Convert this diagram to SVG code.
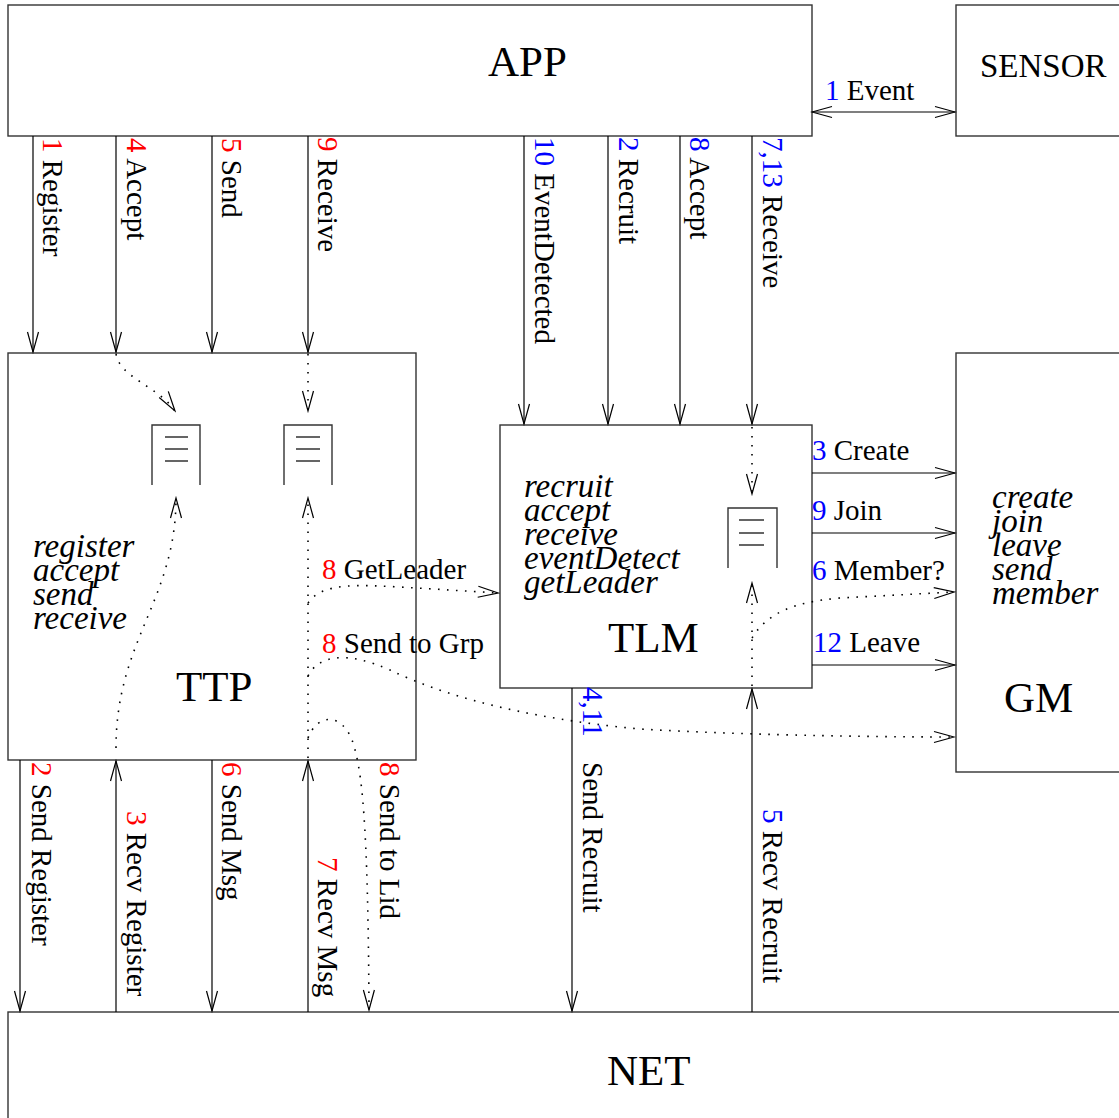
<svg xmlns="http://www.w3.org/2000/svg" width="1119" height="1118" viewBox="0 0 1119 1118">
<style>
.box{fill:#fff;stroke:#333;stroke-width:1.4}
.ln{fill:none;stroke:#000;stroke-width:1.2}
.dot{fill:none;stroke:#000;stroke-width:1.6;stroke-dasharray:1.6 7.4}
.lbl{font-family:"Liberation Serif","Times New Roman",serif;font-size:29px;fill:#000}
.big{font-family:"Liberation Serif","Times New Roman",serif;font-size:43px;fill:#000}
.it{font-family:"Liberation Serif","Times New Roman",serif;font-size:33px;font-style:italic;fill:#000}
.r{fill:#ff0000}
.b{fill:#0000ff}
.q{fill:none;stroke:#333;stroke-width:1.4}
</style>
<defs>
<marker id="ah" viewBox="-22 -7 24 14" refX="0" refY="0" markerWidth="24" markerHeight="14" markerUnits="userSpaceOnUse" orient="auto-start-reverse">
<path d="M-20,-5.5 L0,0 L-20,5.5" fill="none" stroke="#000" stroke-width="1.2"/>
</marker>
</defs>
<rect width="1119" height="1118" fill="#fff"/>

<g id="app">
<rect class="box" x="8" y="5" width="804" height="131"/>
<text class="big" x="488" y="76">APP</text>
</g>
<g id="sensor">
<rect class="box" x="956" y="5" width="220" height="131"/>
<text class="lbl" style="font-size:33px" x="980" y="77">SENSOR</text>
</g>
<g id="ttp">
<rect class="box" x="8" y="353" width="408" height="407"/>
<path class="q" d="M152,485 V425 H200 V485 M165,437 H188 M165,449 H188 M165,461 H188"/>
<path class="q" d="M284,485 V425 H332 V485 M296,437 H320 M296,449 H320 M296,461 H320"/>
<text class="it" x="33" y="557">register</text>
<text class="it" x="33" y="581">accept</text>
<text class="it" x="33" y="605">send</text>
<text class="it" x="33" y="629">receive</text>
<text class="big" x="176" y="701">TTP</text>
</g>
<g id="tlm">
<rect class="box" x="500" y="425" width="312" height="263"/>
<path class="q" d="M728,568 V508 H777 V568 M739,520 H764 M739,533 H764 M739,545 H764"/>
<text class="it" x="524" y="497">recruit</text>
<text class="it" x="524" y="521">accept</text>
<text class="it" x="524" y="545">receive</text>
<text class="it" x="524" y="569">eventDetect</text>
<text class="it" x="524" y="593">getLeader</text>
<text class="big" x="608" y="652">TLM</text>
</g>
<g id="gm">
<rect class="box" x="956" y="353" width="220" height="419"/>
<text class="it" x="992" y="508">create</text>
<text class="it" x="992" y="532">join</text>
<text class="it" x="992" y="556">leave</text>
<text class="it" x="992" y="580">send</text>
<text class="it" x="992" y="604">member</text>
<text class="big" x="1004" y="712">GM</text>
</g>
<g id="net">
<rect class="box" x="8" y="1012" width="1200" height="200"/>
<text class="big" x="607" y="1085">NET</text>
</g>

<g id="connectors">
<line class="ln" x1="812" y1="112" x2="955" y2="112" marker-start="url(#ah)" marker-end="url(#ah)"/>
<line class="ln" x1="33" y1="136" x2="33" y2="352" marker-end="url(#ah)"/>
<line class="ln" x1="116" y1="136" x2="116" y2="352" marker-end="url(#ah)"/>
<line class="ln" x1="212" y1="136" x2="212" y2="352" marker-end="url(#ah)"/>
<line class="ln" x1="308" y1="136" x2="308" y2="352" marker-end="url(#ah)"/>
<line class="ln" x1="524" y1="136" x2="524" y2="424" marker-end="url(#ah)"/>
<line class="ln" x1="608" y1="136" x2="608" y2="424" marker-end="url(#ah)"/>
<line class="ln" x1="680" y1="136" x2="680" y2="424" marker-end="url(#ah)"/>
<line class="ln" x1="752" y1="136" x2="752" y2="424" marker-end="url(#ah)"/>
<line class="ln" x1="812" y1="473" x2="955" y2="473" marker-end="url(#ah)"/>
<line class="ln" x1="812" y1="533" x2="955" y2="533" marker-end="url(#ah)"/>
<line class="ln" x1="812" y1="665" x2="955" y2="665" marker-end="url(#ah)"/>
<line class="ln" x1="20" y1="760" x2="20" y2="1011" marker-end="url(#ah)"/>
<line class="ln" x1="116" y1="1012" x2="116" y2="761" marker-end="url(#ah)"/>
<line class="ln" x1="212" y1="760" x2="212" y2="1011" marker-end="url(#ah)"/>
<line class="ln" x1="308" y1="1012" x2="308" y2="761" marker-end="url(#ah)"/>
<line class="ln" x1="572" y1="688" x2="572" y2="1011" marker-end="url(#ah)"/>
<line class="ln" x1="752" y1="1012" x2="752" y2="689" marker-end="url(#ah)"/>
<path class="dot" d="M116,354 C120,378 158,386 175,411" marker-end="url(#ah)"/>
<path class="dot" d="M308,354 L308,411" marker-end="url(#ah)"/>
<path class="dot" d="M116,748 C116,640 176,600 176,498" marker-end="url(#ah)"/>
<path class="dot" d="M308,758 L308,498" marker-end="url(#ah)"/>
<path class="dot" d="M308,603 C322,582 360,585 400,587 L498,593" marker-end="url(#ah)"/>
<path class="dot" d="M308,676 C318,656 345,650 390,670 C440,694 520,718 640,729 C760,736 900,737 954,737" marker-end="url(#ah)"/>
<path class="dot" d="M308,738 C318,712 342,714 352,740 C362,768 368,820 369,1010" marker-end="url(#ah)"/>
<path class="dot" d="M752,427 L752,494" marker-end="url(#ah)"/>
<path class="dot" d="M752,686 L752,583" marker-end="url(#ah)"/>
<path class="dot" d="M752,638 C768,612 795,602 840,598 L954,592" marker-end="url(#ah)"/>

<text class="lbl" x="825" y="100"><tspan class="b">1</tspan> Event</text>
<text class="lbl" x="812" y="460"><tspan class="b">3</tspan> Create</text>
<text class="lbl" x="812" y="520"><tspan class="b">9</tspan> Join</text>
<text class="lbl" x="812" y="580"><tspan class="b">6</tspan> Member?</text>
<text class="lbl" x="813" y="652"><tspan class="b">12</tspan> Leave</text>
<text class="lbl" x="322" y="579"><tspan class="r">8</tspan> GetLeader</text>
<text class="lbl" x="322" y="653"><tspan class="r">8</tspan> Send to Grp</text>

<text class="lbl" transform="translate(43,138) rotate(90)"><tspan class="r">1</tspan> Register</text>
<text class="lbl" transform="translate(127,138) rotate(90)"><tspan class="r">4</tspan> Accept</text>
<text class="lbl" transform="translate(222,138) rotate(90)"><tspan class="r">5</tspan> Send</text>
<text class="lbl" transform="translate(318,137) rotate(90)"><tspan class="r">9</tspan> Receive</text>
<text class="lbl" transform="translate(535,137) rotate(90)"><tspan class="b">10</tspan> EventDetected</text>
<text class="lbl" transform="translate(619,137) rotate(90)"><tspan class="b">2</tspan> Recruit</text>
<text class="lbl" transform="translate(690,137) rotate(90)"><tspan class="b">8</tspan> Accept</text>
<text class="lbl" transform="translate(763,137) rotate(90)"><tspan class="b">7,13</tspan> Receive</text>

<text class="lbl" transform="translate(32,762) rotate(90)"><tspan class="r">2</tspan> Send Register</text>
<text class="lbl" transform="translate(127,811) rotate(90)"><tspan class="r">3</tspan> Recv Register</text>
<text class="lbl" transform="translate(222,762) rotate(90)"><tspan class="r">6</tspan> Send Msg</text>
<text class="lbl" transform="translate(318,857) rotate(90)"><tspan class="r">7</tspan> Recv Msg</text>
<text class="lbl" transform="translate(380,762) rotate(90)"><tspan class="r">8</tspan> Send to Lid</text>
<text class="lbl b" transform="translate(583,687) rotate(90)">4,11</text>
<text class="lbl" transform="translate(583,762) rotate(90)">Send Recruit</text>
<text class="lbl" transform="translate(763,809) rotate(90)"><tspan class="b">5</tspan> Recv Recruit</text>
</g>
</svg>
